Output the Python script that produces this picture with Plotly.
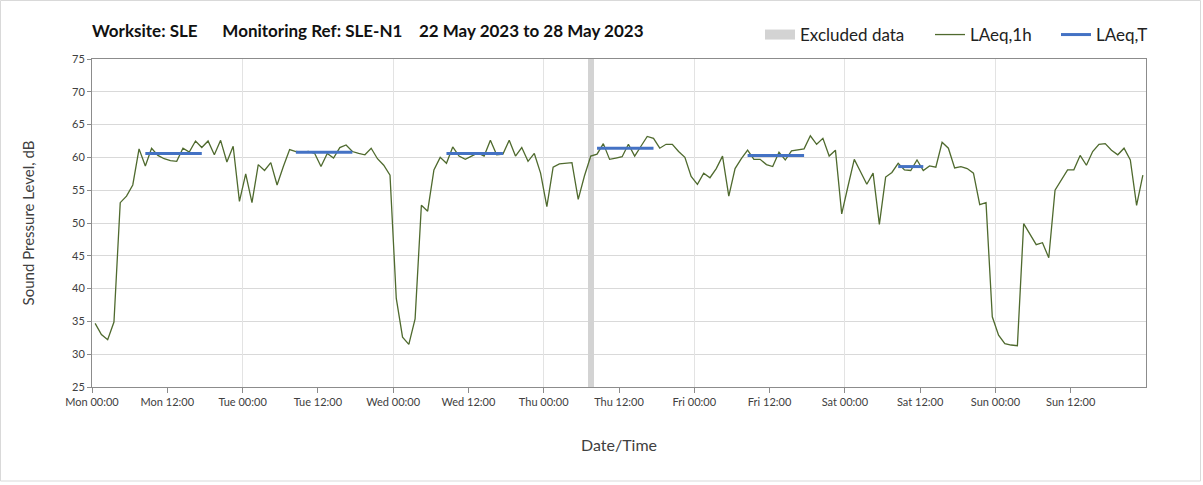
import pandas as pd
import plotly.graph_objects as go

# ---------------- data ----------------
start = "2023-05-22 00:00"

laeq_1h = [
    34.7, 33.0, 32.2, 34.9, 53.1, 54.1, 55.8, 61.3, 58.7, 61.4, 60.3, 59.8,
    59.5, 59.4, 61.4, 60.8, 62.5, 61.5, 62.5, 60.4, 62.6, 59.3, 61.7, 53.3,
    57.5, 53.1, 58.9, 58.0, 59.2, 55.8, 58.6, 61.2, 60.9, 60.8, 60.9, 60.6,
    58.6, 60.6, 59.9, 61.5, 61.9, 60.9, 60.6, 60.4, 61.4, 59.8, 58.8, 57.3,
    38.5, 32.6, 31.5, 35.4, 52.7, 51.8, 58.1, 60.0, 59.1, 61.6, 60.2, 59.7,
    60.2, 60.7, 60.2, 62.6, 60.4, 60.5, 62.6, 60.2, 61.5, 59.4, 60.6, 57.6,
    52.5, 58.5, 59.0, 59.1, 59.2, 53.6, 57.2, 60.2, 60.5, 62.1, 59.7, 59.9,
    60.1, 62.0, 60.2, 61.7, 63.2, 62.9, 61.4, 62.0, 62.0, 60.9, 60.0, 57.1,
    55.9, 57.6, 56.9, 58.3, 60.2, 54.1, 58.3, 59.8, 61.1, 59.7, 59.7, 58.9,
    58.6, 60.8, 59.6, 61.0, 61.1, 61.3, 63.3, 62.0, 62.9, 60.2, 61.1, 51.4,
    55.6, 59.7, 57.8, 55.9, 57.6, 49.8, 57.0, 57.7, 59.1, 58.1, 58.0, 59.6,
    58.0, 58.7, 58.5, 62.3, 61.4, 58.4, 58.6, 58.3, 57.6, 52.8, 53.1, 35.7,
    32.9, 31.6, 31.4, 31.3, 49.9, 48.4, 46.7, 47.0, 44.7, 55.0, 56.5, 58.1,
    58.1, 60.3, 58.8, 60.9, 62.0, 62.1, 61.1, 60.4, 61.4, 59.6, 52.7, 57.3,
]

laeqT_start = ["2023-05-22 08:00", "2023-05-23 08:00", "2023-05-24 08:00",
               "2023-05-25 08:00", "2023-05-26 08:00", "2023-05-27 08:00"]
laeqT_end = ["2023-05-22 18:00", "2023-05-23 18:00", "2023-05-24 18:00",
             "2023-05-25 18:00", "2023-05-26 18:00", "2023-05-27 13:00"]
laeqT_value = [60.6, 60.8, 60.6, 61.4, 60.3, 58.6]

excluded_hours = ["2023-05-25 07:00"]

NB = "\u00a0"
title_text = ("Worksite: SLE" + NB * 6 + "Monitoring Ref: SLE-N1" + NB * 4 +
              "22 May 2023 to 28 May 2023")

# ---------------- derived ----------------
hours = pd.date_range(start, periods=len(laeq_1h), freq="h")
half = pd.Timedelta(minutes=30)
mid = hours + half  # hourly period midpoints

laeqT_series = []
for t in hours:
    v = None
    for s, e, val in zip(laeqT_start, laeqT_end, laeqT_value):
        if pd.Timestamp(s) <= t < pd.Timestamp(e):
            v = val
    laeqT_series.append(v)

Y_MIN, Y_MAX = 25, 75
x_range = [hours[0], hours[-1] + pd.Timedelta(hours=1)]
tick_vals = pd.date_range(start, x_range[1] - pd.Timedelta(hours=1), freq="12h")

FONT = "Lato"
TXT = "#404040"
GREEN = "#4F6A2E"
BLUE = "#4472C4"
GREY = "#D3D3D3"

L, R, T, B = 92, 57, 59, 98
W, H = 1203, 485
pw, ph = W - L - R, H - T - B

fig = go.Figure()

fig.add_trace(go.Bar(
    x=pd.to_datetime(excluded_hours) + half,
    y=[Y_MAX] * len(excluded_hours),
    width=[0.9 * 3600000] * len(excluded_hours),
    marker=dict(color=GREY, line=dict(width=0)),
    name="Excluded data", legendgroup="excl", showlegend=False,
    hoverinfo="skip",
))
# legend entry for the excluded band (rectangular swatch)
fig.add_trace(go.Scatter(
    x=[None], y=[None], mode="lines",
    line=dict(color=GREY, width=12),
    name="Excluded data", legendgroup="excl", legend="legend",
))

fig.add_trace(go.Scatter(
    x=mid, y=laeq_1h, mode="lines",
    line=dict(color=GREEN, width=1.3),
    name="LAeq,1h", legend="legend2",
))

fig.add_trace(go.Scatter(
    x=mid, y=laeqT_series, mode="lines",
    line=dict(color=BLUE, width=3),
    connectgaps=False,
    name="LAeq,T", legend="legend3",
))

# carrier for the day-gridline axis
fig.add_trace(go.Scatter(x=[], y=[], xaxis="x2", showlegend=False, hoverinfo="skip"))


def leg(text_x):
    return dict(
        orientation="h", x=(text_x - 40 - L) / pw, xanchor="left",
        y=(H - B - 35) / ph, yanchor="middle",
        font=dict(size=17, color="#222", family=FONT),
        bgcolor="rgba(0,0,0,0)", itemwidth=30,
    )


fig.update_layout(
    width=W, height=H,
    margin=dict(l=L, r=R, t=T, b=B),
    paper_bgcolor="white", plot_bgcolor="white",
    font=dict(family=FONT, color=TXT),
    bargap=0,
    showlegend=True,
    legend=leg(800),
    legend2=leg(970),
    legend3=leg(1096),
    xaxis=dict(
        type="date", range=x_range,
        tickvals=tick_vals, tickformat="%a %H:%M",
        showgrid=False, zeroline=False,
        showline=True, linecolor="#8C8C8C", linewidth=1, mirror=True,
        ticks="outside", ticklen=5, tickcolor="#8C8C8C",
        tickfont=dict(size=11, color=TXT),
        title=dict(text="Date/Time", font=dict(size=16, color=TXT), standoff=32),
    ),
    xaxis2=dict(
        type="date", overlaying="x", matches="x", range=x_range,
        tick0=start, dtick=24 * 3600000,
        showgrid=True, gridcolor="#E3E3E3", gridwidth=1,
        showticklabels=False, ticks="", showline=False, zeroline=False,
    ),
    yaxis=dict(
        range=[Y_MIN, Y_MAX], dtick=5, tick0=25,
        showgrid=True, gridcolor="#D9D9D9", gridwidth=1.3, zeroline=False,
        showline=True, linecolor="#8C8C8C", linewidth=1, mirror=True,
        ticks="outside", ticklen=4, tickcolor="#8C8C8C",
        tickfont=dict(size=11, color=TXT),
        title=dict(text="Sound Pressure Level, dB", font=dict(size=15, color=TXT), standoff=33),
    ),
    annotations=[dict(
        text="<b>" + title_text + "</b>", xref="paper", yref="paper",
        x=(90 - L) / pw, xanchor="left", y=(H - B - 30) / ph, yanchor="middle",
        showarrow=False, font=dict(size=17, color="#111", family=FONT),
    )],
    shapes=[dict(
        type="rect", xref="paper", yref="paper",
        x0=(0.5 - L) / pw, x1=(1200.5 - L) / pw,
        y0=(H - B - 481) / ph, y1=(H - B - 0.5) / ph,
        line=dict(color="#D9D9D9", width=1), layer="below",
    )],
)

fig.write_html("out.html", config={"displayModeBar": False},
               post_script="document.body.style.margin='0';")
